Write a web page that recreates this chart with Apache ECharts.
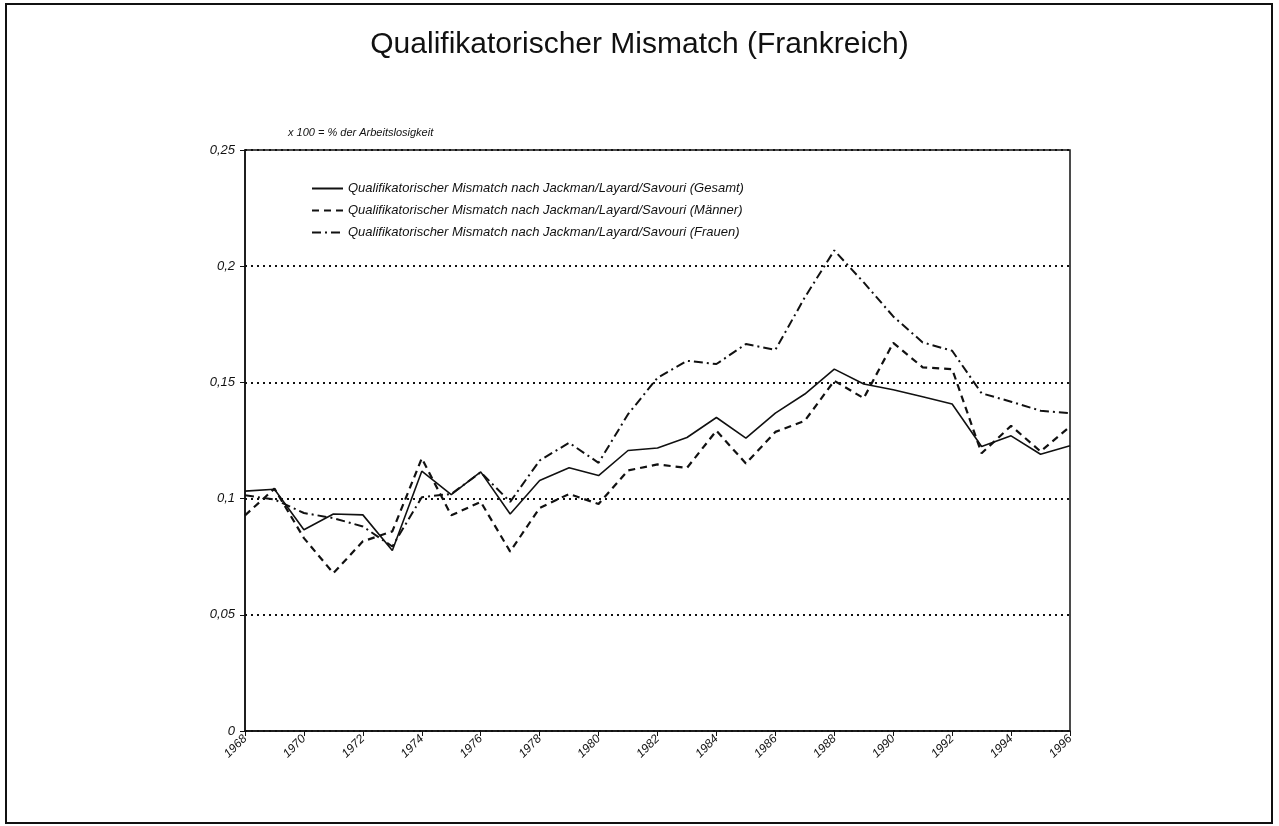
<!DOCTYPE html>
<html>
<head>
<meta charset="utf-8">
<script src="https://cdn.jsdelivr.net/npm/echarts@6/dist/echarts.min.js"></script>
<style>
	html, body { margin: 0; padding: 0; background: #fff; }
	#chart { width: 1279px; height: 826px; }
</style>
</head>
<body>
<div id="chart"></div>
<script>
	var years = [];
	for (var y = 1968; y <= 1996; y++) years.push(String(y));

	// Qualifikatorischer Mismatch
	var gesamt = [0.1032, 0.1040, 0.0866, 0.0934, 0.0930, 0.0777, 0.1118, 0.1017, 0.1115, 0.0934,
		0.1078, 0.1133, 0.1099, 0.1207, 0.1218, 0.1263, 0.1349, 0.1260, 0.1368, 0.1450,
		0.1557, 0.1493, 0.1468, 0.1438, 0.1407, 0.1224, 0.1270, 0.1191, 0.1227];
	var maenner = [0.0928, 0.1043, 0.0830, 0.0679, 0.0816, 0.0859, 0.1173, 0.0928, 0.0986, 0.0772,
		0.0960, 0.1020, 0.0977, 0.1121, 0.1147, 0.1132, 0.1292, 0.1151, 0.1287, 0.1335,
		0.1507, 0.1432, 0.1670, 0.1565, 0.1557, 0.1195, 0.1313, 0.1203, 0.1310];
	var frauen = [0.1014, 0.0996, 0.0938, 0.0916, 0.0880, 0.0794, 0.1006, 0.1020, 0.1113, 0.0986,
		0.1164, 0.1240, 0.1154, 0.1363, 0.1520, 0.1593, 0.1579, 0.1665, 0.1640, 0.1866,
		0.2068, 0.1930, 0.1784, 0.1672, 0.1636, 0.1453, 0.1417, 0.1378, 0.1368];

	var names = [
		'Qualifikatorischer Mismatch nach Jackman/Layard/Savouri (Gesamt)',
		'Qualifikatorischer Mismatch nach Jackman/Layard/Savouri (Männer)',
		'Qualifikatorischer Mismatch nach Jackman/Layard/Savouri (Frauen)'
	];

	var font = 'Liberation Sans, Arial, sans-serif';
	var myChart = echarts.init(document.getElementById('chart'));

	var option = {
		backgroundColor: '#fff',
		animation: false,
		color: ['#111', '#111', '#111'],
		title: {
			text: 'Qualifikatorischer Mismatch (Frankreich)',
			left: 'center',
			top: 25,
			textStyle: { fontFamily: font, fontSize: 30, fontWeight: 'normal', color: '#111' }
		},
		graphic: [{
			type: 'rect',
			shape: { x: 6, y: 4, width: 1266, height: 819 },
			style: { fill: 'none', stroke: '#111', lineWidth: 2 }
		}, {
			type: 'text',
			left: 288,
			top: 127,
			style: { text: 'x 100 = % der Arbeitslosigkeit', font: 'italic 11px ' + font, fill: '#111' }
		}],
		legend: {
			orient: 'vertical',
			left: 306,
			top: 177,
			itemWidth: 31,
			itemHeight: 14,
			itemGap: 9,
			itemStyle: { opacity: 0 },
			textStyle: { fontFamily: font, fontStyle: 'italic', fontSize: 13, color: '#111' },
			data: names
		},
		grid: {
			left: 245,
			right: 209,
			top: 150,
			bottom: 95,
			show: true,
			borderColor: '#111',
			borderWidth: 1.5
		},
		xAxis: {
			type: 'category',
			data: years,
			boundaryGap: false,
			axisLine: { lineStyle: { color: '#111', width: 1.5 } },
			axisTick: { interval: 1, length: 5, lineStyle: { color: '#111' } },
			axisLabel: {
				interval: 1,
				rotate: 45,
				fontFamily: font,
				fontStyle: 'italic',
				fontSize: 12,
				color: '#111',
				margin: 6
			},
			splitLine: { show: false }
		},
		yAxis: {
			type: 'value',
			min: 0,
			max: 0.25,
			interval: 0.05,
			axisLine: { show: true, lineStyle: { color: '#111', width: 1.5 } },
			axisTick: { show: true, length: 5, lineStyle: { color: '#111' } },
			axisLabel: {
				fontFamily: font,
				fontStyle: 'italic',
				fontSize: 13,
				color: '#111',
				margin: 10,
				formatter: function (v) {
					return String(Math.round(v * 100) / 100).replace('.', ',');
				}
			},
			splitLine: { lineStyle: { color: '#111', type: [2, 4], width: 2 } }
		},
		series: [{
			name: names[0],
			type: 'line',
			data: gesamt,
			symbol: 'none',
			lineStyle: { color: '#111', width: 1.6, type: 'solid' }
		}, {
			name: names[1],
			type: 'line',
			data: maenner,
			symbol: 'none',
			lineStyle: { color: '#111', width: 2.2, type: [7, 5] }
		}, {
			name: names[2],
			type: 'line',
			data: frauen,
			symbol: 'none',
			lineStyle: { color: '#111', width: 2, type: [9, 4, 2, 4] }
		}]
	};
	myChart.setOption(option);
</script>
</body>
</html>
